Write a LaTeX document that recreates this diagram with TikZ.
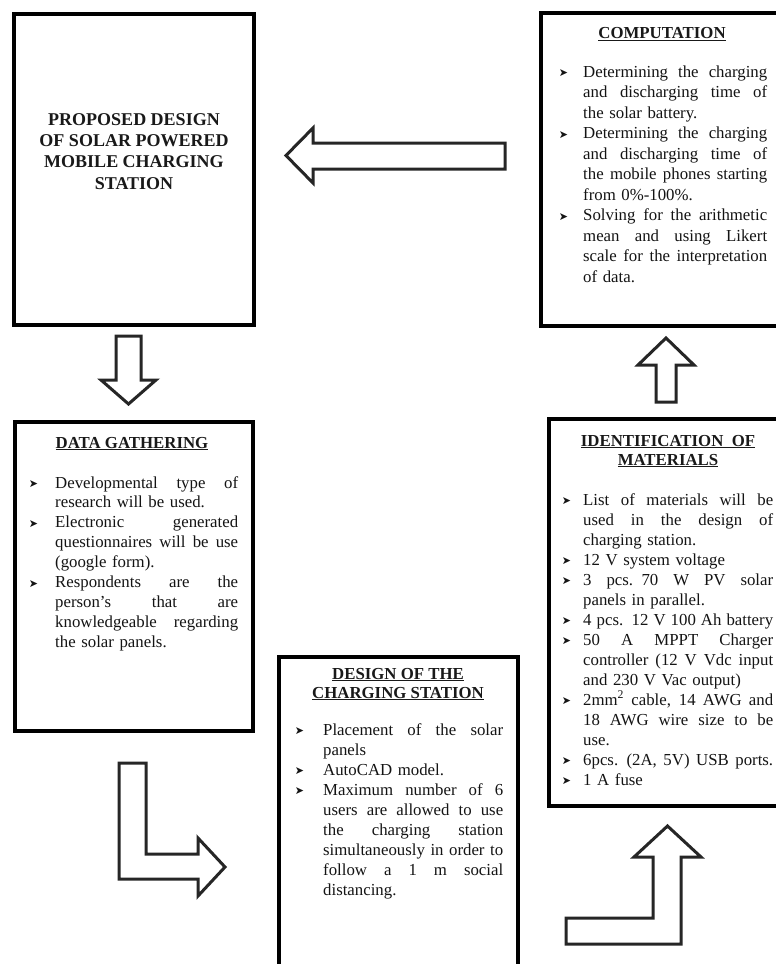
\documentclass[tikz,border=0pt]{standalone}
\usepackage{fontspec}
\setmainfont{Liberation Serif}
\newfontfamily\dejavu{DejaVu Sans}
\newlength\jwidth
\newcommand\bsym{\raisebox{0.5pt}{\dejavu\fontsize{11}{11}\selectfont ➤}}
\newcommand\J[1]{\leavevmode\hbox to \jwidth{\spaceskip=0.25em plus 1fil\relax #1}}
\newcommand\B[1]{\leavevmode\llap{\bsym\hspace{#1}}}
\tikzset{
  boxline/.style={draw=black, line width=4pt},
  blockarrow/.style={draw=black!85, line width=3pt, line join=miter, fill=white},
  titletext/.style={font=\fontsize{16.8}{19}\selectfont\bfseries, align=center, anchor=base, inner sep=0pt, text=black!90},
  bodytext/.style={align=left, anchor=base west, inner sep=0pt, text=black!92},
}
\begin{document}
\begin{tikzpicture}[x=1pt,y=-1pt]
\useasboundingbox (0,0) rectangle (776,964);
\clip (0,0) rectangle (776,964);
\fill[white] (0,0) rectangle (776,964);

% boxes
\draw[boxline] (14,14) rectangle (254,325);
\node[inner sep=0pt] (b1) at (134,170) {};
\draw[boxline] (541,13) rectangle (800,326);
\node[inner sep=0pt] (comp) at (660,170) {};
\draw[boxline] (15,422) rectangle (253,731);
\node[inner sep=0pt] (dg) at (134,576) {};
\draw[boxline] (549,419) rectangle (800,806);
\node[inner sep=0pt] (ident) at (665,612) {};
\draw[boxline] (279,657) rectangle (518,1000);
\node[inner sep=0pt] (design) at (398,800) {};

% block arrows
\draw[blockarrow] (505,143) -- (313,143) -- (313,128) -- (286,155.5) -- (313,183) -- (313,169) -- (505,169) -- cycle;
\draw[blockarrow] (116,336) -- (141,336) -- (141,380) -- (156,380) -- (128.5,404) -- (101,380) -- (116,380) -- cycle;
\draw[blockarrow] (656,402) -- (656,365) -- (638,365) -- (666,338) -- (694,365) -- (676,365) -- (676,402) -- cycle;
\draw[blockarrow] (119,763) -- (146,763) -- (146,854) -- (198,854) -- (198,838) -- (225,867) -- (198,896) -- (198,879) -- (119,879) -- cycle;
\draw[blockarrow] (566,918) -- (653,918) -- (653,857) -- (634,857) -- (667.5,826) -- (701,857) -- (681,857) -- (681,944) -- (566,944) -- cycle;

% titles (base anchor = last line)
\node[titletext, font=\fontsize{18}{21.3}\selectfont\bfseries] (t1) at (134,189) {PROPOSED DESIGN\\OF SOLAR POWERED\\MOBILE CHARGING\\STATION};
\node[titletext] (tcomp) at (662,38.5) {\underline{COMPUTATION}};
\node[titletext] (tident) at (668,465) {\underline{IDENTIFICATION\ \ OF}\\\underline{MATERIALS}};
\node[titletext] (tdg) at (132,448) {\underline{DATA\ GATHERING}};
\node[titletext] (tdesign) at (398,698) {\underline{DESIGN OF THE}\\\underline{CHARGING STATION}};

% bodies
\node[bodytext, text width=184pt, font=\fontsize{16.8}{20.5}\selectfont] (bcomp) at (583,77) {%
\setlength\jwidth{184pt}%
\B{15pt}\J{Determining the charging}\\
\J{and discharging time of}\\
the solar battery.\\
\B{15pt}\J{Determining the charging}\\
\J{and discharging time of}\\
\J{the mobile phones starting}\\
from 0\%-100\%.\\
\B{15pt}\J{Solving for the arithmetic}\\
\J{mean and using Likert}\\
\J{scale for the interpretation}\\
of data.};

\node[bodytext, text width=190pt, font=\fontsize{16.8}{20}\selectfont] (bident) at (583,505) {%
\setlength\jwidth{190pt}%
\B{12pt}\J{List of materials will be}\\
\J{used in the design of}\\
charging station.\\
\B{12pt}12 V system voltage\\
\B{12pt}\J{3 pcs. 70 W PV solar}\\
panels in parallel.\\
\B{12pt}\J{4 pcs. 12 V 100 Ah battery}\\
\B{12pt}\J{50 A MPPT Charger}\\
\J{controller (12 V Vdc input}\\
and 230 V Vac output)\\
\B{12pt}\J{2mm\textsuperscript{2} cable, 14 AWG and}\\
\J{18 AWG wire size to be}\\
use.\\
\B{12pt}\J{6pcs. (2A, 5V) USB ports.}\\
\B{12pt}1 A fuse};

\node[bodytext, text width=183pt, font=\fontsize{16.8}{19.9}\selectfont] (bdg) at (55,488) {%
\setlength\jwidth{183pt}%
\B{17pt}\J{Developmental type of}\\
research will be used.\\
\B{17pt}\J{Electronic generated}\\
\J{questionnaires will be use}\\
(google form).\\
\B{17pt}\J{Respondents are the}\\
\J{person’s that are}\\
\J{knowledgeable regarding}\\
the solar panels.};

\node[bodytext, text width=180pt, font=\fontsize{16.8}{20}\selectfont] (bdesign) at (323,735) {%
\setlength\jwidth{180pt}%
\B{19pt}\J{Placement of the solar}\\
panels\\
\B{19pt}AutoCAD model.\\
\B{19pt}\J{Maximum number of 6}\\
\J{users are allowed to use}\\
\J{the charging station}\\
\J{simultaneously in order to}\\
\J{follow a 1 m social}\\
distancing.};
\end{tikzpicture}
\end{document}
